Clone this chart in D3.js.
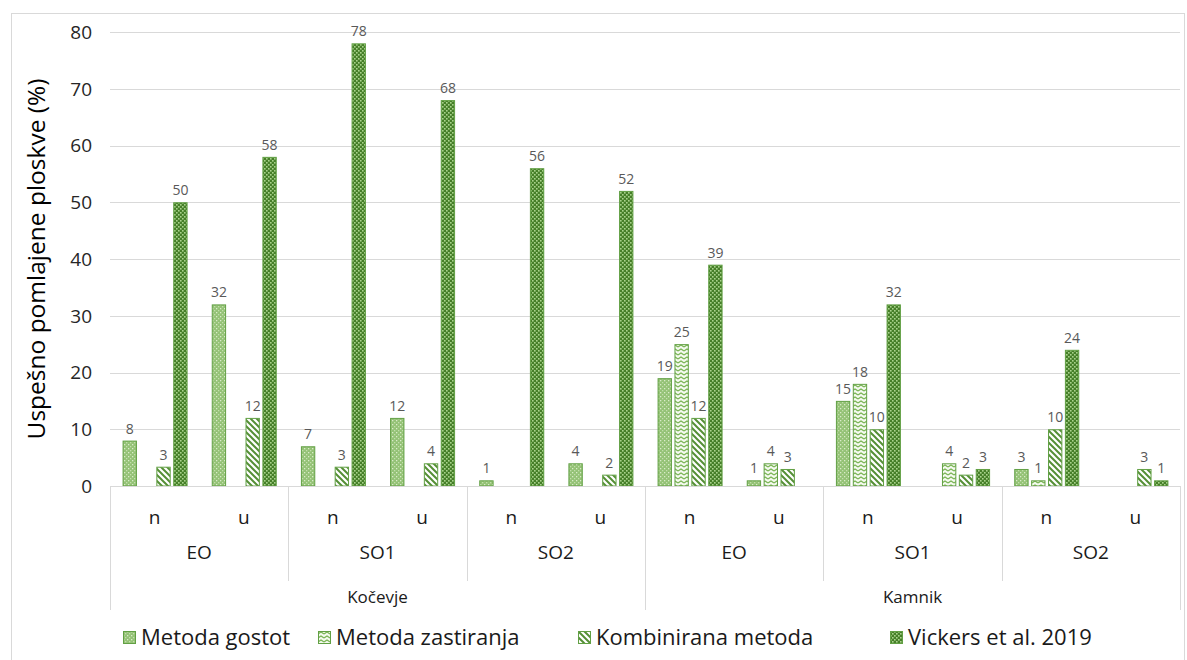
<!DOCTYPE html>
<html><head><meta charset="utf-8">
<script src="https://cdn.jsdelivr.net/npm/d3@7"></script>
<style>body{margin:0;background:#fff}svg{display:block}text{font-family:"Open Sans",sans-serif}</style>
</head><body><svg id="c" width="1187" height="660"></svg>
<script>
const regions = ["Kočevje","Kamnik"];
const sites = ["EO","SO1","SO2"];
const treatments = ["n","u"];
const series = ["Metoda gostot","Metoda zastiranja","Kombinirana metoda","Vickers et al. 2019"];
// one value per category, order: Kočevje EO n, EO u, SO1 n, SO1 u, SO2 n, SO2 u, Kamnik EO n ...
const gostot      = [8, 32, 7, 12, 1, 4, 19, 1, 15, null, 3, null];
const zastiranja  = [null, null, null, null, null, null, 25, 4, 18, 4, 1, null];
const kombinirana = [3.4, 12, 3.4, 4, null, 2, 12, 3, 10, 2, 10, 3];
const vickers     = [50, 58, 78, 68, 56, 52, 39, null, 32, 3, 24, 1];
const yTicks = [0,10,20,30,40,50,60,70,80];

const seriesValues = [gostot, zastiranja, kombinirana, vickers];
const categories = [];
regions.forEach(r => sites.forEach(s => treatments.forEach(t => categories.push(r+"|"+s+"|"+t))));

const svg = d3.select("#c");
const L = 110, R = 1180, T = 32, B = 486;
const x0 = d3.scaleBand().domain(categories).range([L, R]).padding(0);
const y = d3.scaleLinear().domain([0, 80]).range([B, T]);
const x1 = d3.scaleBand().domain(series).range([-32, 33]).paddingInner(0.15);

// defs / patterns
const defs = svg.append("defs");
const green = "#62a044";
let p = defs.append("pattern").attr("id","p0").attr("width",4).attr("height",4).attr("patternUnits","userSpaceOnUse");
p.append("rect").attr("width",4).attr("height",4).attr("fill","#94c276");
p.append("rect").attr("x",0).attr("y",0).attr("width",1.3).attr("height",1.3).attr("fill","#d9ecc9");
p.append("rect").attr("x",2).attr("y",2).attr("width",1.3).attr("height",1.3).attr("fill","#c2dfab");
p = defs.append("pattern").attr("id","p1").attr("width",6).attr("height",4).attr("patternUnits","userSpaceOnUse");
p.append("rect").attr("width",6).attr("height",4).attr("fill","#f4faef");
p.append("path").attr("d","M0,3 L3,1 L6,3").attr("fill","none").attr("stroke","#78b352").attr("stroke-width",1.2);
p = defs.append("pattern").attr("id","p2").attr("width",6).attr("height",6).attr("patternUnits","userSpaceOnUse");
p.append("rect").attr("width",6).attr("height",6).attr("fill","#ffffff");
p.append("path").attr("d","M0,0 L6,6 M-1,5 L1,7 M5,-1 L7,1").attr("stroke","#558f36").attr("stroke-width",2);
p = defs.append("pattern").attr("id","p3").attr("width",4).attr("height",4).attr("patternUnits","userSpaceOnUse");
p.append("rect").attr("width",4).attr("height",4).attr("fill","#467f29");
p.append("rect").attr("x",0).attr("y",0).attr("width",1.6).attr("height",1.6).attr("fill","#a9d38c");
p.append("rect").attr("x",2).attr("y",2).attr("width",1.6).attr("height",1.6).attr("fill","#a9d38c");
const fills = ["url(#p0)","url(#p1)","url(#p2)","url(#p3)"];

// border
svg.append("rect").attr("x",11.5).attr("y",13.5).attr("width",1173).attr("height",660).attr("fill","none").attr("stroke","#d9d9d9");

// gridlines
svg.append("g").selectAll("line").data(yTicks.slice(1)).join("line")
  .attr("x1",L).attr("x2",R).attr("y1",d=>Math.round(y(d))+0.5).attr("y2",d=>Math.round(y(d))+0.5)
  .attr("stroke","#d9d9d9");
// y axis labels
svg.append("g").selectAll("text").data(yTicks).join("text")
  .attr("x",92).attr("y",d=>y(d)).attr("dy","0.36em").attr("text-anchor","end")
  .attr("font-size",19).attr("fill","#262626").text(d=>d);
svg.append("text").attr("transform","translate(45,259) rotate(-90)").attr("text-anchor","middle")
  .attr("font-size",24.5).attr("fill","#000").text("Uspešno pomlajene ploskve (%)");

// bars
const barsData = [];
seriesValues.forEach((vals, si) => vals.forEach((v, ci) => { if (v != null) barsData.push({s: series[si], si, c: categories[ci], v}); }));
const g = svg.append("g");
g.selectAll("rect").data(barsData).join("rect")
  .attr("x", d => x0(d.c) + x0.bandwidth()/2 + x1(d.s) + 0.5)
  .attr("width", x1.bandwidth() - 1)
  .attr("y", d => y(d.v) + 0.5)
  .attr("height", d => Math.max(0, y(0) - y(d.v) - 0.5))
  .attr("fill", d => fills[d.si]).attr("stroke", green).attr("stroke-width",1);
g.selectAll("text").data(barsData).join("text")
  .attr("x", d => x0(d.c) + x0.bandwidth()/2 + x1(d.s) + x1.bandwidth()/2)
  .attr("y", d => y(d.v) - 7).attr("text-anchor","middle")
  .attr("font-size",14).attr("fill","#595959").text(d => d3.format(".0f")(Math.floor(d.v)));

// category axis
const ax = svg.append("g");
ax.append("line").attr("x1",L).attr("x2",R).attr("y1",B+0.5).attr("y2",B+0.5).attr("stroke","#d9d9d9");
ax.selectAll("text.t").data(categories).join("text").attr("class","t")
  .attr("x", d => x0(d) + x0.bandwidth()/2).attr("y",524).attr("text-anchor","middle")
  .attr("font-size",19).attr("fill","#1a1a1a").text(d => d.split("|")[2]);
const siteGroups = [];
regions.forEach(r => sites.forEach(s => siteGroups.push({r, s})));
const siteX = d => x0(d.r+"|"+d.s+"|n");
ax.selectAll("text.s").data(siteGroups).join("text").attr("class","s")
  .attr("x", d => siteX(d) + x0.bandwidth()).attr("y",559).attr("text-anchor","middle")
  .attr("font-size",19).attr("fill","#1a1a1a").text(d => d.s);
ax.selectAll("line.s").data(siteGroups.filter(d => d.s !== "EO")).join("line").attr("class","s")
  .attr("x1", d => Math.round(siteX(d))+0.5).attr("x2", d => Math.round(siteX(d))+0.5)
  .attr("y1",B).attr("y2",581).attr("stroke","#d9d9d9");
ax.selectAll("line.r").data([0, 6, 12]).join("line").attr("class","r")
  .attr("x1", i => Math.round(i < 12 ? x0(categories[i]) : R)+0.5).attr("x2", i => Math.round(i < 12 ? x0(categories[i]) : R)+0.5)
  .attr("y1",B).attr("y2",610).attr("stroke","#d9d9d9");
ax.selectAll("text.r").data(regions).join("text").attr("class","r")
  .attr("x", (d,i) => x0(categories[i*6]) + 3*x0.bandwidth()).attr("y",603).attr("text-anchor","middle")
  .attr("font-size",17).attr("fill","#1a1a1a").text(d => d);

// legend
const legX = [123, 318, 578, 890];
const lg = svg.append("g").selectAll("g").data(series).join("g")
  .attr("transform", (d,i) => `translate(${legX[i]},631)`);
lg.append("rect").attr("x",0.5).attr("y",0.5).attr("width",12).attr("height",12)
  .attr("fill", (d,i) => fills[i]).attr("stroke", green);
lg.append("text").attr("x",18).attr("y",6.5).attr("dy","0.36em").attr("font-size",22).attr("fill","#1a1a1a").text(d => d);
</script></body></html>
